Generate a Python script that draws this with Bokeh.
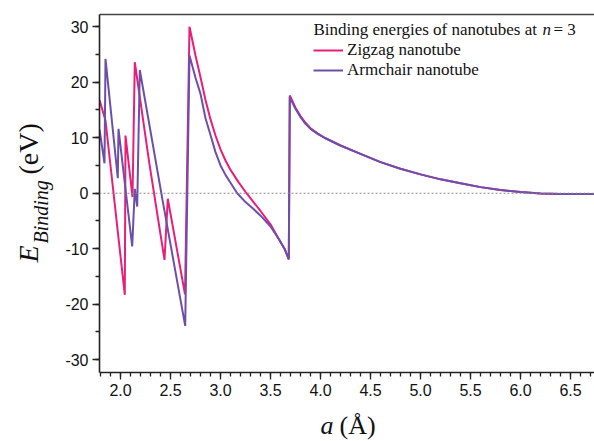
import math
from bokeh.plotting import figure
from bokeh.layouts import row, column
from bokeh.models import (Range1d, LinearAxis, SingleIntervalTicker, FixedTicker,
                          PrintfTickFormatter, Span, Label, Legend, LegendItem)
from bokeh.embed import file_html
from bokeh.resources import INLINE

# ---- data ----
zig_a = [1.79, 1.85, 2.043, 2.05, 2.12, 2.143, 2.29, 2.44, 2.473, 2.645, 2.69, 2.75, 2.80, 2.85,
         2.90, 2.95, 3.00, 3.05, 3.10, 3.18, 3.26, 3.33, 3.40, 3.50, 3.583, 3.64, 3.683, 3.693,
         3.75, 3.80, 3.85, 3.90, 3.97, 4.05, 4.2, 4.4, 4.6, 4.8, 5.0, 5.2, 5.4, 5.6, 5.8, 6.0,
         6.2, 6.4, 6.74]
zig_e = [16.8, 13.1, -18.3, 10.4, -0.7, 23.6, 5.2, -12.0, -1.0, -18.2, 30.0, 24.8, 20.9, 16.8,
         13.3, 10.4, 7.9, 5.9, 4.2, 2.0, 0.0, -1.6, -3.2, -5.6, -8.25, -10.0, -11.9, 17.6,
         15.4, 13.9, 12.7, 11.7, 10.8, 9.9, 8.6, 7.1, 5.6, 4.4, 3.4, 2.5, 1.8, 1.1, 0.6, 0.2,
         -0.05, -0.15, -0.15]

arm_a = [1.79, 1.84, 1.85, 1.973, 1.98, 2.117, 2.143, 2.167, 2.193, 2.42, 2.647, 2.69, 2.75,
         2.80, 2.85, 2.90, 2.95, 3.00, 3.05, 3.10, 3.167, 3.25, 3.333, 3.42, 3.50, 3.583, 3.64,
         3.683, 3.693, 3.75, 3.80, 3.85, 3.90, 3.97, 4.05, 4.2, 4.4, 4.6, 4.8, 5.0, 5.2, 5.4,
         5.6, 5.8, 6.0, 6.2, 6.4, 6.74]
arm_e = [11.5, 5.4, 24.2, 2.7, 11.6, -9.6, 0.8, -2.4, 22.2, -1.2, -23.9, 24.8, 20.8,
         17.9, 13.5, 10.5, 7.4, 5.0, 3.3, 1.9, 0.0, -1.6, -2.9, -4.4, -6.0, -8.25, -10.0,
         -11.9, 17.3, 15.2, 13.7, 12.5, 11.6, 10.7, 9.9, 8.6, 7.1, 5.6, 4.4, 3.4, 2.5, 1.8,
         1.1, 0.6, 0.2, -0.05, -0.15, -0.15]

series_names = ["Zigzag nanotube", "Armchair nanotube"]
legend_title = "Binding energies of nanotubes at "

PINK = "#E91E78"
PURPLE = "#6C4FAA"
AXIS = "#222222"
TEXT = "#111111"
SERIF = "Liberation Serif"
SANS = "Liberation Sans"

YL_W = 56          # width of the strip holding the y-axis title
MAIN_H = 405       # height of the main plot
XL_H = 441 - MAIN_H
FRAME_TOP, FRAME_BOTTOM = 14, 372

p = figure(width=594 - YL_W, height=MAIN_H, output_backend="svg", toolbar_location=None,
           x_range=Range1d(1.79, 6.74), y_range=Range1d(-32.3, 32.2),
           min_border_left=99 - YL_W, min_border_right=0, min_border_top=FRAME_TOP,
           min_border_bottom=MAIN_H - FRAME_BOTTOM,
           x_axis_location=None, y_axis_location=None)
p.outline_line_color = None
p.grid.visible = False
p.background_fill_color = "white"
p.border_fill_color = "white"

def style_axis(ax, major_out, minor_out):
    ax.axis_line_color = AXIS
    ax.axis_line_width = 1.6
    ax.major_tick_line_color = AXIS
    ax.minor_tick_line_color = AXIS
    ax.major_tick_line_width = 1.3
    ax.minor_tick_line_width = 1.3
    ax.major_tick_in = 0
    ax.minor_tick_in = 0
    ax.major_tick_out = major_out
    ax.minor_tick_out = minor_out
    ax.major_label_text_font = SANS
    ax.major_label_text_font_size = "16px"
    ax.major_label_text_color = TEXT

xaxis = LinearAxis(ticker=SingleIntervalTicker(interval=0.5, num_minor_ticks=5),
                   formatter=PrintfTickFormatter(format="%.1f"))
style_axis(xaxis, 7, 4)
xaxis.major_label_standoff = 4
p.add_layout(xaxis, "below")

yaxis = LinearAxis(ticker=SingleIntervalTicker(interval=10, num_minor_ticks=2),
                   formatter=PrintfTickFormatter(format="%d"))
style_axis(yaxis, 7, 4)
yaxis.major_label_standoff = 4
p.add_layout(yaxis, "left")

top = LinearAxis(ticker=FixedTicker(ticks=[]))
top.axis_line_color = "#444444"
top.axis_line_width = 1.6
top.major_tick_out = 0
top.minor_tick_out = 0
top.major_label_text_font_size = "0px"
top.major_label_standoff = 0
p.add_layout(top, "above")

p.add_layout(Span(location=0, dimension="width", line_color="#8a8a8a",
                  line_dash="2 2", line_width=1))

r1 = p.line(zig_a, zig_e, line_color=PINK, line_width=2)
r2 = p.line(arm_a, arm_e, line_color=PURPLE, line_width=2)

legend = Legend(items=[LegendItem(label=series_names[0], renderers=[r1]),
                       LegendItem(label=series_names[1], renderers=[r2])],
                location=(214, 292), padding=0, margin=0, spacing=0,
                glyph_width=30, glyph_height=20, label_height=20, label_standoff=4,
                label_text_font=SERIF, label_text_font_size="17px",
                label_text_line_height=1.0,
                label_text_color=TEXT,
                border_line_alpha=0, background_fill_alpha=0)
p.add_layout(legend)

def lab(fig, text, x, y, size, style="normal", angle=0.0):
    fig.add_layout(Label(x=x, y=y, x_units="screen", y_units="screen", text=text,
                         text_font=SERIF, text_font_size=size, text_font_style=style,
                         text_color=TEXT, angle=angle, text_align="left",
                         text_baseline="alphabetic"))

# legend title (with italic n), inside the plot frame
lab(p, legend_title, 214, 343, "17px")
lab(p, "n", 443, 343, "17px", "italic")
lab(p, "= 3", 454, 343, "17px")

def text_strip(w, h):
    f = figure(width=w, height=h, output_backend="svg", toolbar_location=None,
               x_range=Range1d(0, 1), y_range=Range1d(0, 1), min_border=0,
               x_axis_location=None, y_axis_location=None)
    f.outline_line_color = None
    f.grid.visible = False
    f.background_fill_color = "white"
    f.border_fill_color = "white"
    return f

# y-axis title: E_Binding (eV); this strip's frame is aligned with the main frame
yl = text_strip(YL_W, MAIN_H)
lab(yl, "E", 28, FRAME_BOTTOM - 262, "28px", "italic", math.pi / 2)
lab(yl, "Binding", 40, FRAME_BOTTOM - 243, "20px", "italic", math.pi / 2)
lab(yl, "(eV)", 28, FRAME_BOTTOM - 174, "28px", "normal", math.pi / 2)

# x-axis title: a (Å)
xl = text_strip(594, XL_H)
lab(xl, "a", 320, 16, "26px", "italic")
lab(xl, "(Å)", 339, 16, "26px")

layout = column(row(yl, p, spacing=0), xl, spacing=0)

open("out.html", "w").write(file_html(layout, INLINE))
